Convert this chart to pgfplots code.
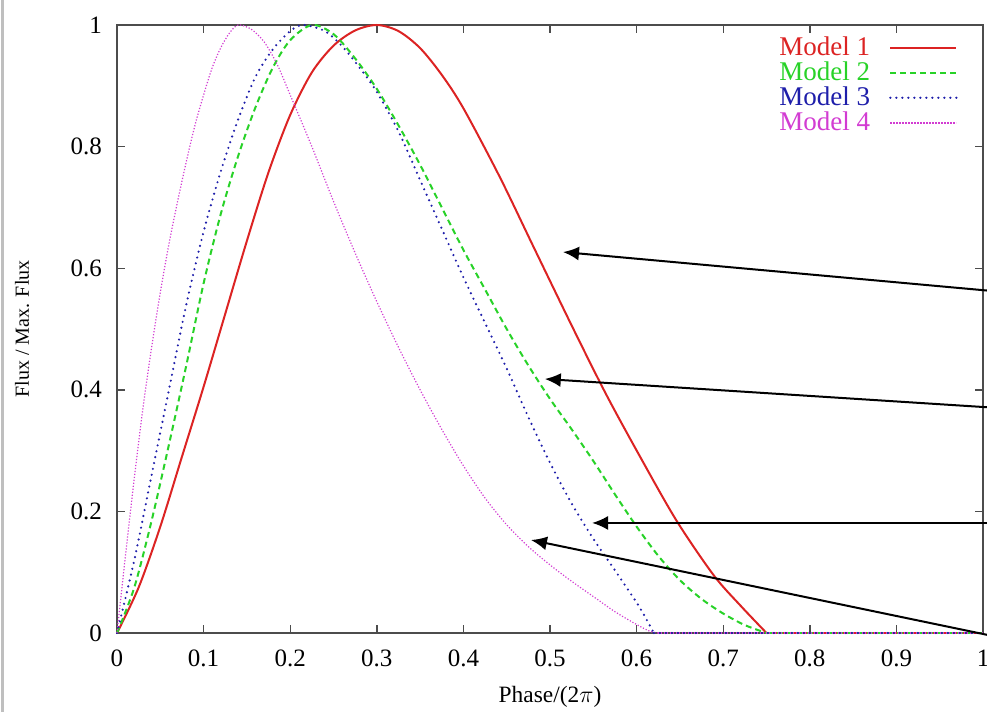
\documentclass[border=0pt]{standalone}
\usepackage{pgfplots}
\pgfplotsset{compat=1.18}
\usepackage{fontspec}
\setmainfont{Liberation Serif}
\usetikzlibrary{arrows.meta,calc}

\definecolor{mone}{RGB}{220,35,35}
\definecolor{mtwo}{RGB}{40,210,40}
\definecolor{mthree}{RGB}{30,30,170}
\definecolor{mfour}{RGB}{210,60,210}

\begin{document}
\begin{tikzpicture}
\begin{axis}[
    name=ax,
    scale only axis,
    width=433pt, height=304pt,
    xmin=0, xmax=1, ymin=0, ymax=1,
    xtick={0,0.1,...,1.01},
    ytick={0,0.2,...,1.01},
    tick align=inside,
    major tick length=4pt,
    axis line style={black!70, line width=0.7pt},
    tick style={black!70, line width=0.7pt},
    /pgf/number format/assume math mode=true,
    ticklabel style={font=\fontsize{12.5}{14}\selectfont},
    xticklabel style={yshift=-5pt},
    yticklabel style={xshift=-4pt},
    xlabel={Phase/(2$\pi$)},
    ylabel={Flux / Max. Flux},
    xlabel style={font=\fontsize{11.7}{14}\selectfont, at={(axis description cs:0.5,-0.105)}, anchor=center},
    ylabel style={font=\fontsize{10}{12}\selectfont, at={(axis description cs:-0.1097,0.5)}, anchor=center},
    clip=false,
    legend plot pos=right,
    legend cell align=right,
    legend image code/.code={\path (0pt,0pt); \draw[#1] (8pt,0pt) -- (41pt,0pt);},
    legend style={
        at={(0.978,0.993)}, anchor=north east,
        draw=none, fill=none,
        font=\fontsize{13.5}{14}\selectfont,
        row sep=-1.3pt,
        nodes={inner sep=1.5pt},
    },
]

% Model 1
\addplot[mone, line width=1pt, smooth] coordinates {
(0,0) (0.025,0.075) (0.05,0.175) (0.075,0.29) (0.1,0.405) (0.125,0.525)
(0.15,0.645) (0.175,0.758) (0.2,0.852) (0.225,0.922) (0.25,0.966) (0.275,0.991)
(0.3,1.0) (0.325,0.99) (0.35,0.962) (0.375,0.918) (0.4,0.863) (0.442,0.75)
(0.481,0.635) (0.527,0.50) (0.565,0.392) (0.604,0.29) (0.646,0.185) (0.689,0.095)
(0.72,0.045) (0.75,0)
};
\addlegendentry{\textcolor{mone}{Model 1}}

% Model 2
\addplot[mtwo, line width=1pt, dash pattern=on 3pt off 2pt, smooth] coordinates {
(0,0) (0.02,0.075) (0.04,0.185) (0.06,0.31) (0.08,0.44) (0.1,0.575) (0.12,0.69)
(0.14,0.785) (0.16,0.865) (0.18,0.93) (0.2,0.975) (0.225,1.0) (0.25,0.985)
(0.275,0.945) (0.3,0.895) (0.325,0.835) (0.35,0.77) (0.375,0.70) (0.4,0.63)
(0.425,0.565) (0.45,0.50) (0.475,0.44) (0.5,0.385) (0.525,0.335) (0.55,0.283)
(0.575,0.228) (0.6,0.175) (0.625,0.127) (0.65,0.087) (0.675,0.056) (0.7,0.032)
(0.725,0.013) (0.75,0)
};
\addlegendentry{\textcolor{mtwo}{Model 2}}

% Model 3
\addplot[mthree, line width=1.2pt, dash pattern=on 0pt off 3pt, line cap=round, smooth] coordinates {
(0,0) (0.02,0.12) (0.04,0.26) (0.06,0.40) (0.08,0.54) (0.1,0.66) (0.12,0.76)
(0.14,0.845) (0.16,0.915) (0.18,0.96) (0.2,0.99) (0.215,1.0) (0.24,0.99)
(0.26,0.965) (0.28,0.93) (0.3,0.89) (0.325,0.825) (0.35,0.745) (0.375,0.665)
(0.4,0.585) (0.425,0.51) (0.45,0.435) (0.475,0.355) (0.5,0.28) (0.525,0.213)
(0.55,0.155) (0.575,0.103) (0.6,0.05) (0.61,0.026) (0.62,0)
};
\addlegendentry{\textcolor{mthree}{Model 3}}

% Model 4
\addplot[mfour, line width=0.6pt, dash pattern=on 0.6pt off 0.9pt, smooth] coordinates {
(0,0) (0.01,0.13) (0.02,0.255) (0.03,0.37) (0.04,0.47) (0.05,0.56) (0.06,0.64)
(0.07,0.71) (0.08,0.775) (0.09,0.835) (0.1,0.885) (0.11,0.93) (0.12,0.963)
(0.13,0.987) (0.14,1.0) (0.155,0.993) (0.17,0.972) (0.185,0.935) (0.2,0.885)
(0.225,0.80) (0.25,0.71) (0.275,0.625) (0.3,0.545) (0.325,0.47) (0.35,0.40)
(0.375,0.335) (0.4,0.275) (0.425,0.222) (0.45,0.178) (0.475,0.142) (0.5,0.112)
(0.525,0.085) (0.55,0.06) (0.575,0.035) (0.6,0.014) (0.615,0.003) (0.625,0)
};
\addlegendentry{\textcolor{mfour}{Model 4}}

% flat parts along the axis
\addplot[mone, line width=1pt, forget plot] coordinates {(0.75,0) (1,0)};
\addplot[mtwo, line width=1pt, dash pattern=on 3pt off 2pt, forget plot] coordinates {(0.75,0) (1,0)};
\addplot[mthree, line width=1.2pt, dash pattern=on 0pt off 3pt, line cap=round, forget plot] coordinates {(0.62,0) (1,0)};
\addplot[mfour, line width=0.6pt, dash pattern=on 0.6pt off 0.9pt, forget plot] coordinates {(0.625,0) (1,0)};

% annotation arrows coming in from the right
\draw[black, line width=1pt, -{Latex[length=8pt,width=7pt]}] (axis cs:1.03,0.560) -- (axis cs:0.515,0.6266);
\draw[black, line width=1pt, -{Latex[length=8pt,width=7pt]}] (axis cs:1.03,0.369) -- (axis cs:0.494,0.4178);
\draw[black, line width=1pt, -{Latex[length=8pt,width=7pt]}] (axis cs:1.03,0.181) -- (axis cs:0.5485,0.181);
\draw[black, line width=1pt, -{Latex[length=8pt,width=7pt]}] (axis cs:1.03,-0.0105) -- (axis cs:0.478,0.153);
\end{axis}
\draw[black!25, line width=1.5pt] ($(ax.south west)+(-57pt,-39.5pt)$) -- ($(ax.north west)+(-57pt,12.5pt)$);
\pgfresetboundingbox
\path[use as bounding box] ($(ax.south west)+(-58.5pt,-39.5pt)$) rectangle ($(ax.north east)+(2pt,12.5pt)$);
\end{tikzpicture}
\end{document}
